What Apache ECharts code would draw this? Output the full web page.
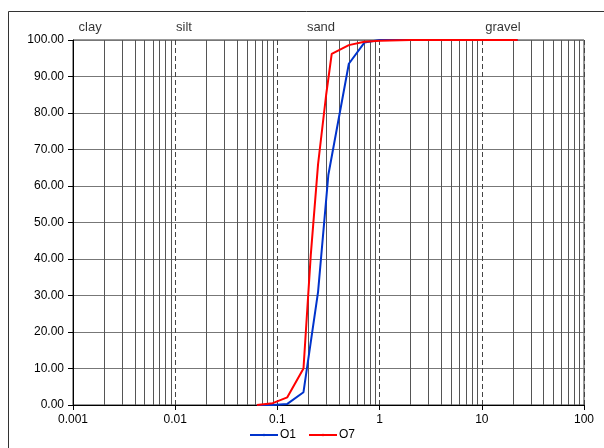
<!DOCTYPE html>
<html>
<head>
<meta charset="utf-8">
<script src="https://cdn.jsdelivr.net/npm/echarts@6/dist/echarts.min.js"></script>
<style>
html,body{margin:0;padding:0;background:#fff;}
#c{width:604px;height:448px;}
</style>
</head>
<body>
<div id="c"></div>
<script>
// Grain size (mm) and cumulative percent passing
const o1Sizes  = [0.063, 0.09, 0.125, 0.18, 0.25, 0.315, 0.5, 0.71, 1, 2, 4, 8, 16, 22.4];
const o1Values = [0, 0, 0.3, 3.5, 31, 63, 93.5, 99.3, 100, 100, 100, 100, 100, 100];
const o7Sizes  = [0.063, 0.09, 0.125, 0.18, 0.212, 0.25, 0.3, 0.34, 0.5, 0.71, 1, 2, 4, 8, 16, 22.4];
const o7Values = [0, 0.5, 2.1, 10, 41, 66, 85, 96.2, 98.6, 99.5, 99.8, 100, 100, 100, 100, 100];

const xTickLabels = ['0.001', '0.01', '0.1', '1', '10', '100'];
const zoneNames = ['clay', 'silt', 'sand', 'gravel'];
const zoneX = [0.00147, 0.0122, 0.267, 16.1];

const decades = [0.001, 0.01, 0.1, 1, 10];
const minorGrid = [];
decades.forEach(d => { for (let k = 2; k <= 9; k++) minorGrid.push(+(d * k).toPrecision(3)); });

const pair = (xs, ys) => xs.map((x, i) => [x, ys[i]]);

const font = 'Liberation Sans, Arial, sans-serif';
const chart = echarts.init(document.getElementById('c'));
chart.setOption({
  animation: false,
  backgroundColor: '#fff',
  graphic: [{
    type: 'rect', silent: true, z: 0,
    shape: { x: 8.5, y: 11.5, width: 800, height: 800 },
    style: { fill: 'none', stroke: '#333', lineWidth: 1 }
  }],
  grid: { left: 73, right: 20, top: 40, bottom: 43, show: true, borderColor: '#333', borderWidth: 1, backgroundColor: 'transparent' },
  legend: {
    data: ['O1', 'O7'], bottom: 2, left: 'center',
    itemWidth: 28, itemHeight: 3, itemGap: 12,
    textStyle: { fontFamily: font, fontSize: 12, color: '#000', padding: [0, 0, 0, -3] }
  },
  xAxis: {
    type: 'log', logBase: 10, min: 0.001, max: 100,
    axisLine: { show: true, lineStyle: { color: '#000', width: 1 } },
    axisTick: { show: true, length: 5, lineStyle: { color: '#000' } },
    axisLabel: { fontFamily: font, fontSize: 12, color: '#000', margin: 9,
      formatter: (v, i) => xTickLabels[i] },
    splitLine: { show: true, lineStyle: { color: '#444', width: 1, type: [5, 3] } }
  },
  yAxis: {
    type: 'value', min: 0, max: 100, interval: 10,
    axisLine: { show: true, lineStyle: { color: '#000', width: 1 } },
    axisTick: { show: true, length: 5, lineStyle: { color: '#000' } },
    axisLabel: { fontFamily: font, fontSize: 12, color: '#000', margin: 9,
      formatter: v => v.toFixed(2) },
    splitLine: { show: true, lineStyle: { color: '#777', width: 1 } }
  },
  series: [
    {
      name: 'minorGrid', type: 'custom', z: 1, silent: true,
      data: minorGrid.map(v => [v]),
      encode: { x: 0 },
      renderItem: (params, api) => {
        const v = api.value(0);
        const p0 = api.coord([v, 0]);
        const p1 = api.coord([v, 100]);
        const x = Math.round(p0[0]) + 0.5;
        return { type: 'line', silent: true,
          shape: { x1: x, y1: p0[1], x2: x, y2: p1[1] },
          style: { stroke: '#555', lineWidth: 1 } };
      }
    },
    {
      name: 'zones', type: 'scatter', symbolSize: 0, z: 2, silent: true,
      data: zoneX.map((x, i) => ({ value: [x, 100], name: zoneNames[i] })),
      label: { show: true, position: 'top', distance: 6, formatter: p => p.name,
        fontFamily: font, fontSize: 13, color: '#000' }
    },
    {
      name: 'O1', type: 'line', z: 3, symbol: 'none', data: pair(o1Sizes, o1Values),
      lineStyle: { color: '#0033cc', width: 2 }, itemStyle: { color: '#0033cc' }
    },
    {
      name: 'O7', type: 'line', z: 4, symbol: 'none', data: pair(o7Sizes, o7Values),
      lineStyle: { color: '#ff0000', width: 2 }, itemStyle: { color: '#ff0000' }
    }
  ]
});
</script>
</body>
</html>
